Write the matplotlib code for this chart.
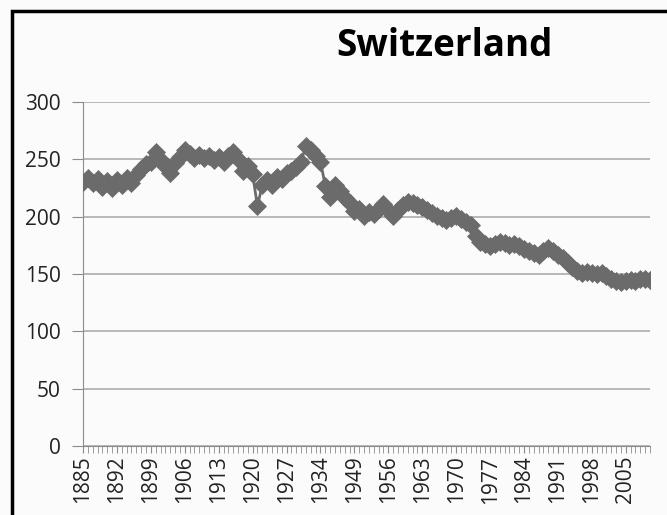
import matplotlib.pyplot as plt
from matplotlib.patches import Rectangle
from matplotlib.ticker import FixedLocator, MultipleLocator

# years in the series (no data for 1940-1947)
years = list(range(1885, 1940)) + list(range(1948, 2011))

values = [
    230, 234, 229, 233, 226, 231, 225, 232, 228, 234,
    229, 236, 242, 246, 248, 256, 249, 244, 238, 247,
    252, 258, 255, 251, 254, 251, 253, 249, 252, 248,
    253, 256, 250, 240, 244, 237, 209, 228, 232, 228,
    235, 233, 238, 240, 243, 248, 262, 258, 253, 248,
    227, 217, 228, 222, 216,
    212, 205, 207, 201, 204, 202, 207, 211, 206, 201,
    206, 210, 213, 212, 210, 208, 206, 203, 201, 199,
    197, 199, 201, 198, 195, 193, 183, 178, 176, 174,
    176, 178, 177, 175, 176, 174, 172, 170, 168, 167,
    170, 173, 170, 167, 164, 160, 156, 153, 151, 152,
    151, 150, 151, 148, 146, 144, 143, 144, 145, 144,
    146, 146, 145,
]

title = "Switzerland"
y_ticks = [0, 50, 100, 150, 200, 250, 300]
label_step = 7

W, H = 667, 515
fig = plt.figure(figsize=(W / 100, H / 100), dpi=100)
fig.patch.set_facecolor("#fbfbfb")

# chart frame (runs off the right and bottom edges)
fig.patches.append(Rectangle((12 / W, -0.05), 1.2, (H - 11) / H + 0.05,
                             transform=fig.transFigure, fill=False,
                             edgecolor="black", linewidth=2.5))

ax = fig.add_axes([83 / W, (H - 446) / H, (650 - 83) / W, (446 - 102) / H])
ax.set_facecolor("#fbfbfb")

x = list(range(len(years)))
ax.plot(x, values, color="#6b6b6b", linewidth=2.0,
        marker="D", markersize=9.5, markerfacecolor="#6b6b6b",
        markeredgecolor="#6b6b6b", markeredgewidth=0.5, zorder=3)

ax.set_xlim(0, len(years) - 1)
ax.set_ylim(0, 300)

ax.set_yticks(y_ticks)
ax.yaxis.grid(True, color="#a6a6a6", linewidth=1.1)
ax.set_axisbelow(True)

label_pos = list(range(0, len(years), label_step))
ax.xaxis.set_major_locator(FixedLocator(label_pos))
ax.set_xticklabels([str(years[i]) for i in label_pos], rotation=90)
ax.xaxis.set_minor_locator(MultipleLocator(1))

for side in ("top", "right"):
    ax.spines[side].set_visible(False)
ax.spines["left"].set_color("#8c8c8c")
ax.spines["bottom"].set_color("#8c8c8c")

ax.tick_params(axis="y", length=8, color="#8c8c8c", labelsize=15,
               labelcolor="#222222", pad=8)
ax.tick_params(axis="x", which="both", length=5, color="#8c8c8c",
               labelsize=15, labelcolor="#222222", pad=2)

for lbl in ax.get_xticklabels() + ax.get_yticklabels():
    lbl.set_family(["Open Sans", "DejaVu Sans"])

fig.text(445 / W, (H - 46) / H, title, ha="center", va="center",
         fontsize=26.5, fontweight="bold", family=["Open Sans", "DejaVu Sans"])

fig.savefig("out.png", dpi=100, facecolor=fig.get_facecolor())
